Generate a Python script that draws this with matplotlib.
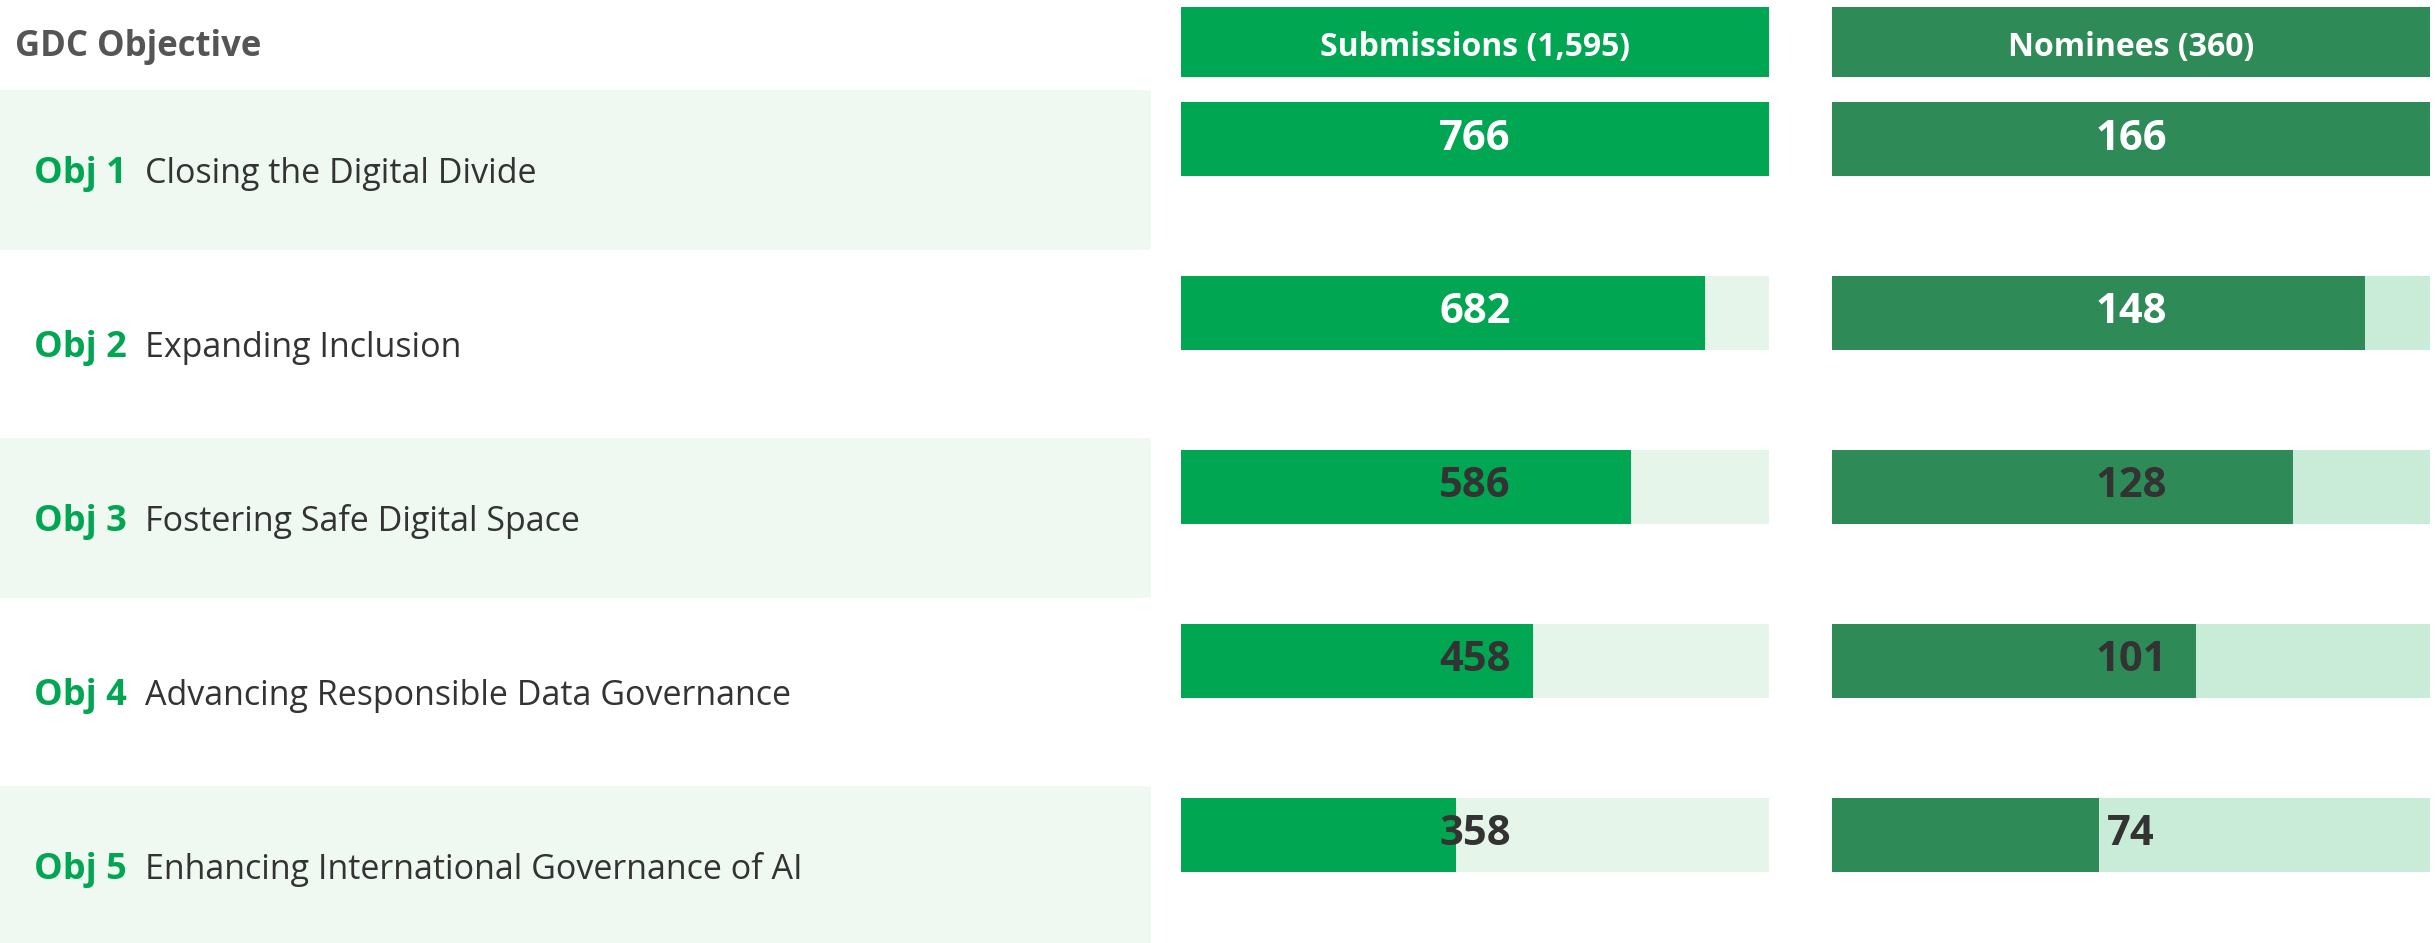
import matplotlib.pyplot as plt

# data
obj_ids = ['Obj 1', 'Obj 2', 'Obj 3', 'Obj 4', 'Obj 5']
obj_names = ['Closing the Digital Divide',
             'Expanding Inclusion',
             'Fostering Safe Digital Space',
             'Advancing Responsible Data Governance',
             'Enhancing International Governance of AI']
submissions = [766, 682, 586, 458, 358]
nominees = [166, 148, 128, 101, 74]
submissions_total = 1595
nominees_total = 360

GREEN = '#00a651'
DARK_GREEN = '#2e8b57'
SUB_TRACK = '#e6f5e9'
NOM_TRACK = '#c8ecd8'
BAND = '#eff8f1'
TEXT_DARK = '#333333'

plt.rcParams['font.family'] = ['Open Sans', 'DejaVu Sans']

W, H = 2435, 943
fig = plt.figure(figsize=(W / 100, H / 100), dpi=100)

rows = list(range(len(obj_ids)))
ylim = (4.621, -0.799)
header_y = -0.558
header_h = 0.402
header_txt = header_y + 0.03
bar_h = 0.425
label_off = 0.2
band_off = 0.18
band_h = 0.92

# left column: objective labels
ax_l = fig.add_axes([0, 0, 1151 / W, 1])
ax_l.set_xlim(0, 1)
ax_l.set_ylim(*ylim)
ax_l.axis('off')
for i in rows:
    yc = i + band_off
    if i % 2 == 0:
        ax_l.axhspan(yc - band_h / 2, yc + band_h / 2, color=BAND, lw=0)
    ax_l.text(0.0295, i + label_off, obj_ids[i], color=GREEN, fontsize=26,
              fontweight='bold', va='center', ha='left')
    ax_l.text(0.126, i + label_off, obj_names[i], color=TEXT_DARK, fontsize=24.5,
              va='center', ha='left')
ax_l.text(0.013, header_txt, 'GDC Objective', color='#555555', fontsize=25,
          fontweight='bold', va='center', ha='left')


def bar_panel(rect, values, total, title, color, track):
    ax = fig.add_axes(rect)
    vmax = max(values)
    ax.set_xlim(0, vmax)
    ax.set_ylim(*ylim)
    ax.axis('off')
    ax.barh([header_y], [vmax], height=header_h, color=color, lw=0)
    ax.text(vmax / 2, header_txt, f'{title} ({total:,})', color='white',
            fontsize=23, fontweight='bold', ha='center', va='center')
    ax.barh(rows, [vmax] * len(values), height=bar_h, color=track, lw=0)
    ax.barh(rows, values, height=bar_h, color=color, lw=0)
    for i, v in enumerate(values):
        ax.text(vmax / 2, i, str(v), color='white' if i < 2 else TEXT_DARK,
                fontsize=30, fontweight='bold', ha='center', va='center')
    return ax


bar_panel([1181 / W, 0, 588 / W, 1], submissions, submissions_total,
          'Submissions', GREEN, SUB_TRACK)
bar_panel([1832 / W, 0, 598 / W, 1], nominees, nominees_total,
          'Nominees', DARK_GREEN, NOM_TRACK)

fig.savefig('out.png', dpi=100, facecolor='white')
